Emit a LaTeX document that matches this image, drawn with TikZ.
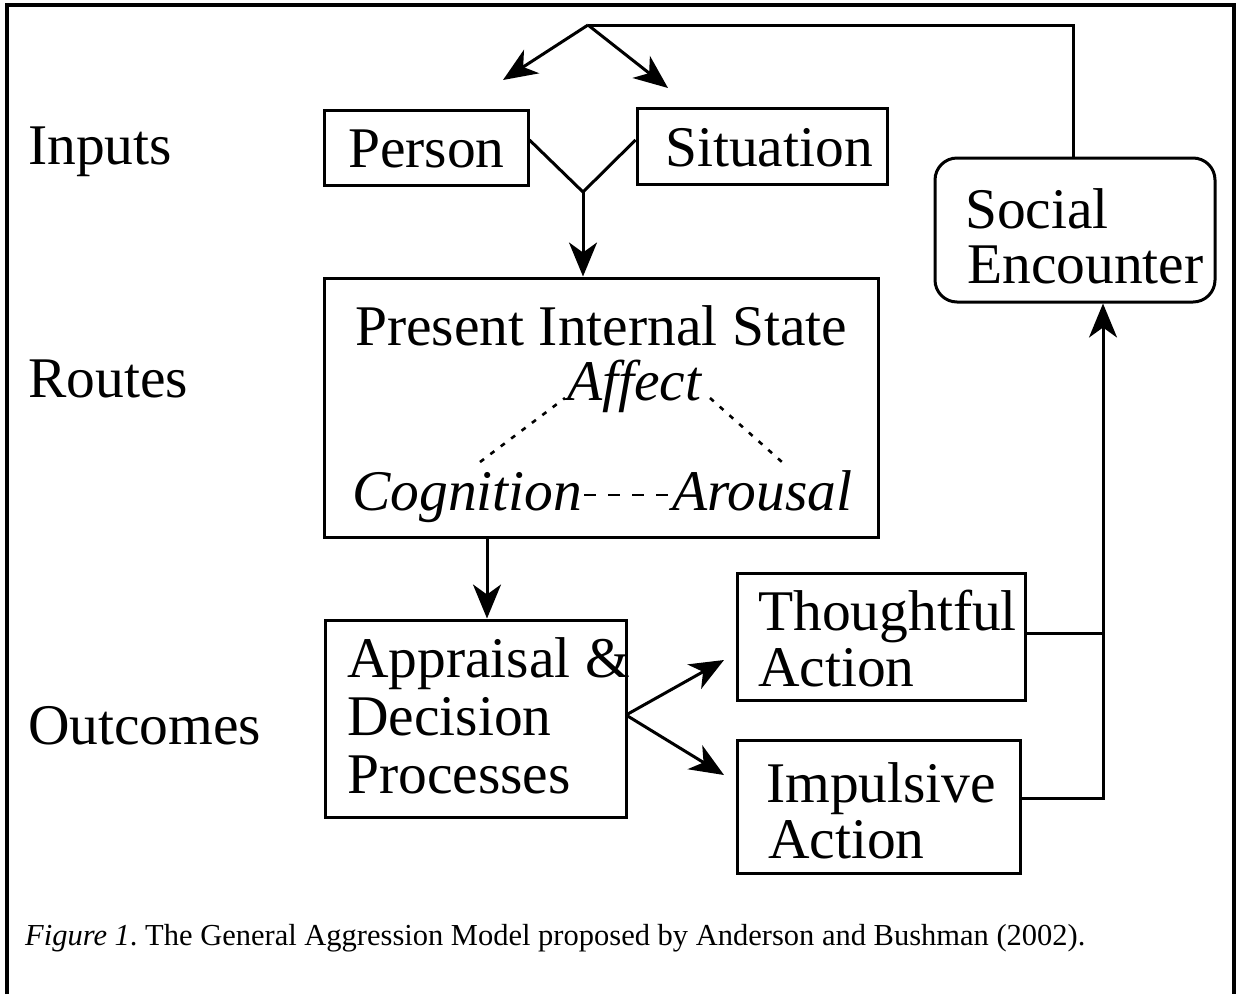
\documentclass[tikz,border=0pt]{standalone}
\usepackage{fontspec}
\setmainfont{Liberation Serif}
\usetikzlibrary{arrows.meta}
\frenchspacing
\begin{document}
\begin{tikzpicture}[x=1pt,y=-1pt,
  box/.style={draw, line width=3pt, inner sep=0pt},
  txt/.style={anchor=base west, inner sep=0pt, font=\fontsize{57.5}{58}\selectfont},
  itxt/.style={anchor=base west, inner sep=0pt, font=\fontsize{57.5}{58}\selectfont\itshape},
  conn/.style={line width=3pt},
  arr/.style={line width=3pt, -{Stealth[length=34pt,width=28pt,inset=10pt]}},
  frame/.style={line width=3.5pt}]
\useasboundingbox (0,0) rectangle (1238,994);
% outer frame
\coordinate (fbl) at (7,994);
\coordinate (ftl) at (7,5);
\coordinate (ftr) at (1234,5);
\coordinate (fbr) at (1234,994);
\draw[frame] (fbl) -- (ftl) -- (ftr) -- (fbr);

% row labels
\node[txt] (inputs) at (28,164) {Inputs};
\node[txt] (routes) at (28,397) {Routes};
\node[txt] (outcomes) at (28,744) {Outcomes};

% boxes
\node[box, minimum width=204pt, minimum height=75pt] (person) at (426,147.5) {};
\node[txt] (persont) at (348,167) {Person};
\node[box, minimum width=250pt, minimum height=76pt] (situation) at (762,146) {};
\node[txt] (situationt) at (665,166) {Situation};

\node[box, minimum width=554pt, minimum height=259pt] (present) at (601,407.5) {};
\node[txt] (presentt) at (355,345) {Present Internal State};
\node[itxt] (affect) at (567,400) {Affect};
\node[itxt] (cognition) at (352,510) {Cognition};
\node[itxt] (arousal) at (672,510) {Arousal};

\node[box, minimum width=301pt, minimum height=197pt] (appraisal) at (475.5,718.5) {};
\node[txt] (appr1) at (347,677) {Appraisal \&};
\node[txt] (appr2) at (347,735) {Decision};
\node[txt] (appr3) at (347,793) {Processes};

\node[box, minimum width=288pt, minimum height=127pt] (thought) at (881,636.5) {};
\node[txt] (th1) at (758,630) {Thoughtful};
\node[txt] (th2) at (758,686) {Action};

\node[box, minimum width=283pt, minimum height=133pt] (impulse) at (878.5,806.5) {};
\node[txt] (im1) at (766,802) {Impulsive};
\node[txt] (im2) at (768,858) {Action};

\node[box, rounded corners=22pt, minimum width=280pt, minimum height=144pt] (social) at (1075,230) {};
\node[txt] (so1) at (965,228) {Social};
\node[txt] (so2) at (967,283) {Encounter};

% internal state links
\coordinate (c1) at (480,462);
\coordinate (a1) at (565,398);
\coordinate (a2) at (710,398);
\coordinate (r1) at (782,462);
\draw[line width=2.6pt, dash pattern=on 5pt off 8pt] (c1) -- (a1);
\draw[line width=2.6pt, dash pattern=on 5pt off 8pt] (a2) -- (r1);
\coordinate (c2) at (584,495);
\coordinate (r2) at (668,495);
\draw[line width=2.6pt, dash pattern=on 12pt off 12pt] (c2) -- (r2);

% feedback loop from Social Encounter to inputs
\coordinate (apex) at (588,25);
\coordinate (pend) at (503,80);
\coordinate (send) at (668,88);
\draw[conn] (social.north -| 1073,0) |- (apex);
\draw[arr] (apex) -- (pend);
\draw[arr] (apex) -- (send);

% inputs merge
\coordinate (join) at (583,192);
\draw[conn] (person.east |- 0,140) -- (join) -- (situation.west |- 0,140);
\draw[arr] (join) -- (join |- present.north);

% present state to appraisal
\draw[arr] (present.south -| 487,0) -- (appraisal.north -| 487,0);

% appraisal to actions
\coordinate (branch) at (626,715);
\coordinate (tend) at (724,660);
\coordinate (iend) at (724,775);
\draw[arr] (branch) -- (tend);
\draw[arr] (branch) -- (iend);

% actions to social encounter
\coordinate (merge) at (1103,633);
\draw[conn] (thought.east |- merge) -- (merge);
\draw[conn] (impulse.east |- 0,798) -| (merge);
\draw[arr] (merge) -- (social.south -| merge);

% caption
\node[anchor=base west, inner sep=0pt, font=\fontsize{30.5}{32}\selectfont] (caption) at (25,945) {\textit{Figure 1}. The General Aggression Model proposed by Anderson and Bushman (2002).};
\end{tikzpicture}
\end{document}
